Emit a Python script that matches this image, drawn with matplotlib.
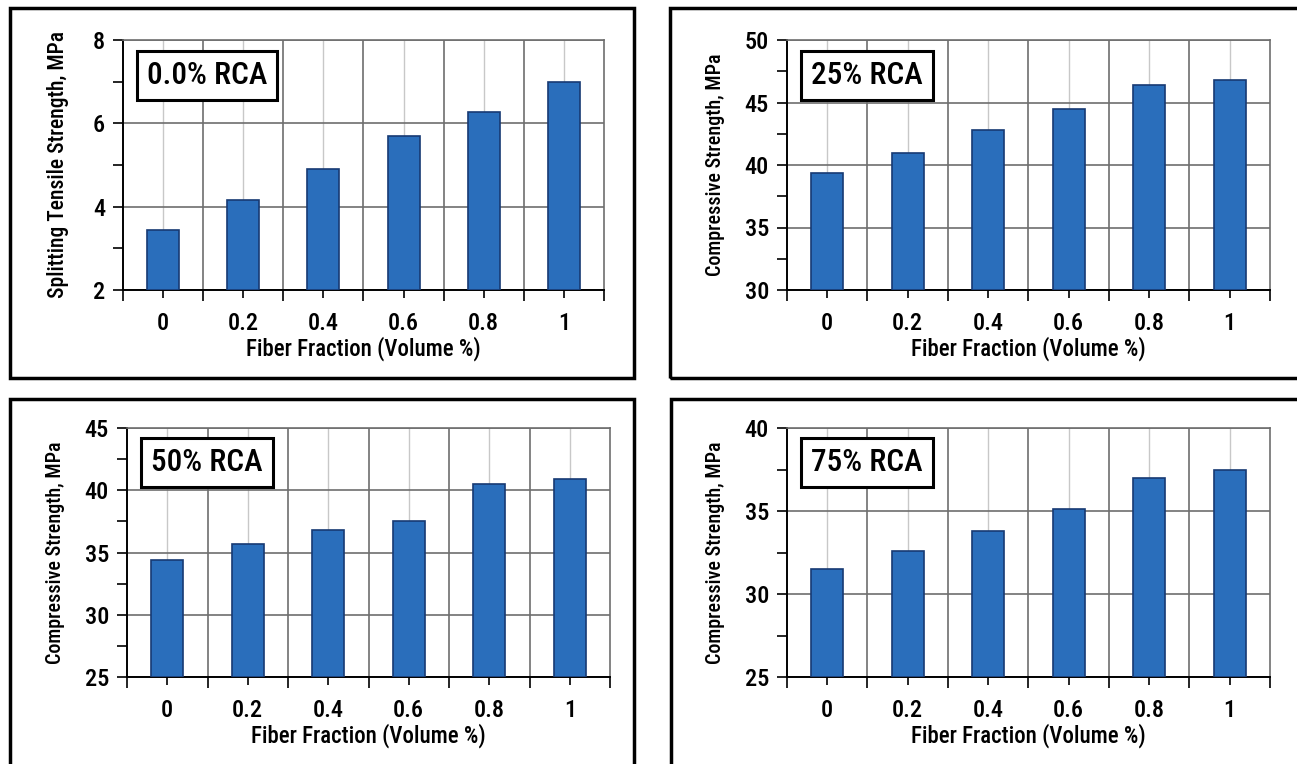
import matplotlib
matplotlib.use("Agg")
import matplotlib.pyplot as plt
from matplotlib import font_manager
from matplotlib.patches import Rectangle
from matplotlib.ticker import MultipleLocator
import numpy as np

# the source uses a narrow sans; take a condensed face if one is installed
narrow = [f for f in font_manager.fontManager.ttflist
          if ('Narrow' in f.name or 'Condensed' in f.name or f.stretch in ('condensed', 'semi-condensed'))
          and f.style == 'normal']
names = sorted({f.name for f in narrow})
fam = 'DejaVu Sans'
for pref in ['Roboto Condensed', 'Liberation Sans Narrow', 'Open Sans Condensed']:
    if pref in names:
        fam = pref
        break
else:
    if names:
        fam = names[0]
stretches = [f.stretch for f in narrow if f.name == fam]
plt.rcParams['font.family'] = [fam, 'DejaVu Sans']
plt.rcParams['font.stretch'] = stretches[0] if stretches else 'normal'
WT = 'medium'

fiber = ["0", "0.2", "0.4", "0.6", "0.8", "1"]

tensile_0 = [3.45, 4.15, 4.9, 5.7, 6.28, 7.0]
comp_25 = [39.4, 41.0, 42.8, 44.5, 46.4, 46.8]
comp_50 = [34.4, 35.7, 36.8, 37.5, 40.5, 40.9]
comp_75 = [31.5, 32.6, 33.8, 35.1, 37.0, 37.5]

labels = ["0.0% RCA", "25% RCA", "50% RCA", "75% RCA"]
ylabels = ["Splitting Tensile Strength, MPa", "Compressive Strength, MPa",
           "Compressive Strength, MPa", "Compressive Strength, MPa"]
ylims = [(2, 8), (30, 50), (25, 45), (25, 40)]
ysteps = [2, 5, 5, 5]

W, H = 1297, 764
fig = plt.figure(figsize=(W / 100, H / 100), dpi=100)

# axes rectangles in pixels: left, top, right, bottom
axes_px = [(123, 40, 604, 290), (787, 40, 1270, 290),
           (127, 428, 610, 677), (787, 428, 1270, 677)]
# outer panel boxes in pixels
boxes_px = [(10, 8, 634, 378), (670, 8, 1310, 378),
            (10, 399, 634, 780), (671, 399, 1310, 780)]
ylabel_x = [-0.113, -0.129, -0.129, -0.129]

for (l, t, r, b) in boxes_px:
    fig.patches.append(Rectangle((l / W, 1 - b / H), (r - l) / W, (b - t) / H,
                                 transform=fig.transFigure, fill=False,
                                 edgecolor='black', linewidth=2.5))

data = [tensile_0, comp_25, comp_50, comp_75]
x = np.arange(len(fiber))

for i, vals in enumerate(data):
    l, t, r, b = axes_px[i]
    ax = fig.add_axes([l / W, 1 - b / H, (r - l) / W, (b - t) / H])
    lo, hi = ylims[i]
    ax.set_xlim(-0.5, len(fiber) - 0.5)
    ax.set_ylim(lo, hi)

    # light grid at category centres, darker at boundaries
    for xc in x:
        ax.axvline(xc, color='#c8c8c8', lw=1.0, zorder=0)
    for xb in np.arange(0.5, len(fiber) - 0.5, 1):
        ax.axvline(xb, color='#6e6e6e', lw=1.2, zorder=0)
    ax.yaxis.set_major_locator(MultipleLocator(ysteps[i]))
    ax.yaxis.set_minor_locator(MultipleLocator(ysteps[i] / 2))
    ax.grid(axis='y', which='major', color='#6e6e6e', lw=1.2, zorder=0)
    ax.set_axisbelow(True)

    ax.bar(x, np.array(vals) - lo, bottom=lo, width=0.4, color='#2a6ebb',
           edgecolor='#173a73', linewidth=1.2, zorder=3)

    ax.set_xticks(x)
    ax.set_xticklabels(fiber, fontsize=17.5, fontweight=WT)
    ax.set_xticks(np.arange(-0.5, len(fiber), 1), minor=True)
    ax.tick_params(axis='x', which='major', length=6, width=1.2, pad=10)
    ax.tick_params(axis='x', which='minor', length=8, width=1.2)
    ax.tick_params(axis='y', which='major', length=7, width=1.2, labelsize=17.5, pad=6)
    ax.tick_params(axis='y', which='minor', length=7, width=1.2)
    for tl in ax.get_yticklabels():
        tl.set_fontweight(WT)

    for side in ['top', 'right']:
        ax.spines[side].set_color('#6e6e6e')
        ax.spines[side].set_linewidth(1.2)
    ax.spines['left'].set_linewidth(1.4)
    ax.spines['bottom'].set_linewidth(1.4)

    ax.set_xlabel("Fiber Fraction (Volume %)", fontsize=16.5, fontweight=WT, labelpad=1)
    ax.set_ylabel(ylabels[i], fontsize=15.5 if i == 0 else 14.5, fontweight=WT)
    ax.yaxis.set_label_coords(ylabel_x[i], 0.5)

    ax.text(0.05, 0.86, labels[i], transform=ax.transAxes, fontsize=22.5,
            fontweight=WT, va='center', ha='left', zorder=5,
            bbox=dict(boxstyle='square,pad=0.32', facecolor='white',
                      edgecolor='black', linewidth=2.2))

fig.savefig("out.png", dpi=100)
